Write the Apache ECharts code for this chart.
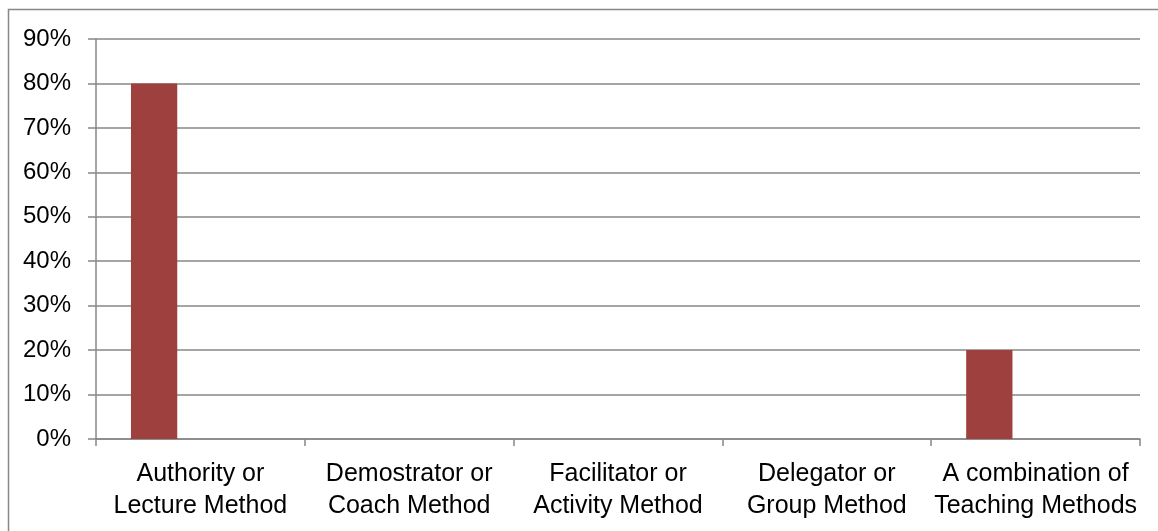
<!DOCTYPE html>
<html>
<head>
<meta charset="utf-8">
<script src="https://cdn.jsdelivr.net/npm/echarts@6/dist/echarts.min.js"></script>
<style>
  html, body { margin: 0; padding: 0; background: #ffffff; }
  #chart { width: 1158px; height: 531px; }
</style>
</head>
<body>
<div id="chart"></div>
<script>
// Teaching methods and the share of respondents using each (percent)
const categories = [
  'Authority or\nLecture Method',
  'Demostrator or\nCoach Method',
  'Facilitator or\nActivity Method',
  'Delegator or\nGroup Method',
  'A combination of\nTeaching Methods'
];
const seriesA = [80, null, null, null, 20];
const seriesB = [null, null, null, null, null];
const seriesC = [null, null, null, null, null];
const yTicks = { min: 0, max: 90, interval: 10 };

const gray = '#878787';
const font = 'Liberation Sans';

const chart = echarts.init(document.getElementById('chart'), null, { renderer: 'canvas' });

const barSeries = (name, data) => ({
  name: name,
  type: 'bar',
  data: data,
  barGap: '0%',
  barCategoryGap: '33.5%',
  itemStyle: { color: '#9E413E' },
  silent: true
});

chart.setOption({
  animation: false,
  backgroundColor: '#ffffff',
  graphic: [{
    type: 'rect',
    shape: { x: 8.5, y: 9.5, width: 1170, height: 540 },
    style: { fill: 'none', stroke: gray, lineWidth: 1.5 },
    silent: true
  }],
  grid: { left: 96, right: 18, top: 39, bottom: 92, containLabel: false },
  xAxis: {
    type: 'category',
    data: categories,
    axisLine: { show: true, lineStyle: { color: gray, width: 1.5 } },
    axisTick: { show: true, alignWithLabel: false, length: 7, lineStyle: { color: gray, width: 1.5 } },
    axisLabel: {
      interval: 0,
      margin: 19,
      color: '#000000',
      fontFamily: font,
      fontSize: 25,
      lineHeight: 32
    },
    splitLine: { show: false }
  },
  yAxis: {
    type: 'value',
    min: yTicks.min,
    max: yTicks.max,
    interval: yTicks.interval,
    axisLine: { show: true, lineStyle: { color: gray, width: 1.5 } },
    axisTick: { show: true, length: 8, lineStyle: { color: gray, width: 1.5 } },
    axisLabel: {
      margin: 25,
      color: '#000000',
      fontFamily: font,
      fontSize: 24,
      formatter: v => v + '%'
    },
    splitLine: { show: true, lineStyle: { color: gray, width: 1.5 } }
  },
  series: [
    barSeries('Series 1', seriesA),
    barSeries('Series 2', seriesB),
    barSeries('Series 3', seriesC)
  ]
});
</script>
</body>
</html>
